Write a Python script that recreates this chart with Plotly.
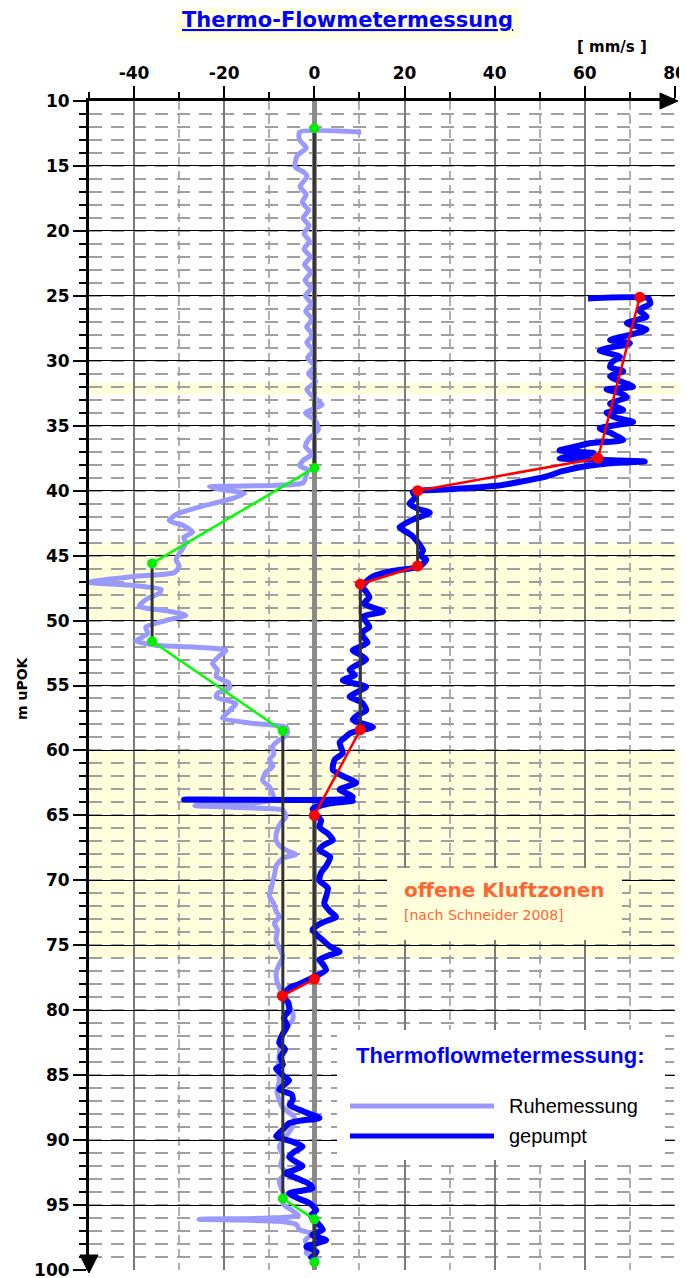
import plotly.graph_objects as go

# ---------------- data ----------------
ruhe_depth = [12.4, 12.4, 13.0, 13.6, 14.2, 15.06, 15.5, 15.8, 16.6, 17.2, 17.8, 18.4, 19.0, 19.6, 20.2,
              20.8, 21.4, 22.0, 22.6, 23.2, 23.8, 24.4, 25.0, 25.6, 26.2, 26.8, 27.4, 28.0, 28.6, 29.2,
              29.8, 30.4, 31.0, 31.6, 32.2, 32.8, 33.4, 34.0, 34.6, 35.3, 36.0, 36.6, 37.2, 37.7, 38.1,
              38.4, 38.8, 39.4, 39.6, 39.7, 39.9, 40.2, 40.6, 41.2, 41.8, 42.3, 42.7, 43.2, 43.6, 44.0,
              44.6, 45.3, 45.8, 46.3, 46.6, 47.05, 47.3, 47.6, 47.9, 48.3, 48.9, 49.3, 49.6, 50.0, 50.5,
              51.0, 51.6, 51.9, 52.1, 52.3, 52.7, 53.3, 53.8, 54.3, 54.8, 55.2, 55.6, 55.9, 56.4, 57.0,
              57.5, 57.9, 58.2, 58.6, 58.9, 59.3, 59.7, 60.3, 60.7, 61.2, 61.7, 62.3, 62.8, 63.3, 63.7,
              64.0, 64.25, 64.45, 64.6, 65.1, 65.6, 66.2, 66.9, 67.4, 67.8, 68.0, 68.3, 68.9, 69.5, 70.2,
              70.7, 71.2, 71.8, 72.3, 72.8, 73.3, 73.8, 74.6, 75.2, 75.9, 76.6, 77.2, 77.9, 78.5, 78.9,
              79.5, 80.2, 80.7, 81.5, 82.5, 83.5, 84.5, 85.5, 86.2, 86.9, 87.5, 88.2, 89.0, 89.8, 90.5,
              91.2, 92.0, 92.5, 93.1, 93.8, 94.5, 94.9, 95.4, 95.8, 96.0, 96.1, 96.25, 96.5, 96.9, 97.2,
              97.7, 98.2, 98.7, 99.1, 99.5]
ruhe_v = [10.4, -3.3, -3.3, -1.8, -3.8, -4.3, -2.3, -1.6, -3.2, -1.8, -2.7, -1.3, -2.5, -1.2, -2.3,
          -1.1, -2.3, -0.9, -2.2, -0.8, -2.1, -0.7, -2.0, -0.7, -1.9, -0.5, -1.7, -0.3, -1.7, -0.3,
          -1.5, 0.1, -1.3, 0.3, -1.7, -0.2, 1.7, -2.0, 0.2, 0.9, -1.2, -2.0, -0.6, -2.6, -3.2,
          -1.5, -1.8, -2.5, -10.0, -23.3, -21.0, -15.5, -18.1, -25.0, -30.5, -32.2, -29.0, -27.0, -29.0, -28.5,
          -29.5, -30.7, -30.0, -31.0, -40.0, -50.0, -40.0, -34.0, -34.4, -37.0, -38.9, -32.0, -28.5, -33.0, -37.4,
          -37.0, -39.6, -35.0, -24.0, -19.6, -21.0, -22.6, -21.5, -21.8, -19.0, -18.9, -21.5, -21.8, -17.4, -19.0,
          -20.4, -14.0, -6.3, -5.9, -6.5, -8.2, -9.3, -9.0, -10.0, -9.2, -10.8, -11.5, -10.0, -9.3, -9.0,
          -12.0, -26.5, -12.0, -7.0, -6.3, -7.5, -8.3, -8.5, -7.5, -5.5, -4.1, -7.0, -8.5, -8.8, -9.3,
          -9.6, -10.0, -9.0, -8.6, -7.8, -8.9, -8.2, -8.5, -7.8, -7.0, -8.0, -8.5, -8.2, -7.5, -7.8,
          -6.0, -4.8, -4.8, -6.5, -7.5, -7.8, -8.0, -7.8, -8.3, -7.8, -7.0, -4.5, -4.9, -6.5, -7.8,
          -7.0, -7.5, -6.2, -7.8, -7.2, -6.5, -7.0, -5.0, -3.5, -10.0, -25.6, -8.0, -4.0, -3.3, -0.4,
          -2.0, -1.5, -1.8, 0.5, -0.5]

pump_depth = [25.2, 25.2, 25.6, 26.1, 26.6, 27.1, 27.6, 28.0, 28.4, 28.65, 29.2, 29.7, 30.1, 30.5, 30.8,
              31.2, 31.6, 32.0, 32.2, 32.5, 32.8, 33.3, 33.8, 34.0, 34.4, 34.7, 35.2, 35.6, 36.1, 36.35,
              36.6, 36.9, 37.1, 37.3, 37.5, 37.65, 37.75, 37.9, 38.1, 38.5, 38.9, 39.3, 39.6, 39.9, 40.1,
              40.5, 41.0, 41.4, 41.7, 42.2, 42.8, 43.1, 43.5, 44.0, 44.6, 45.0, 45.3, 45.85, 46.2, 46.6,
              47.0, 47.4, 47.8, 48.2, 48.7, 49.3, 49.7, 50.1, 50.5, 50.9, 51.2, 51.7, 52.3, 52.6, 53.0,
              53.4, 53.8, 54.2, 54.6, 55.1, 55.5, 55.85, 56.3, 56.9, 57.3, 57.65, 58.2, 58.5, 58.7, 59.0,
              59.4, 60.2, 60.7, 61.2, 61.5, 62.0, 62.5, 63.0, 63.55, 63.7, 63.78, 63.88, 64.1, 64.5, 65.0,
              65.4, 65.9, 66.4, 66.9, 67.3, 67.65, 68.2, 68.9, 69.4, 70.0, 70.6, 71.25, 71.8, 72.4, 72.8,
              73.3, 73.8, 74.2, 74.6, 75.1, 75.5, 75.8, 76.1, 76.5, 76.9, 77.5, 78.0, 78.3, 78.9, 79.4,
              80.0, 80.6, 81.2, 81.8, 82.5, 83.0, 83.6, 84.2, 84.5, 85.0, 85.4, 86.1, 86.5, 86.9, 87.3,
              87.7, 88.0, 88.3, 88.5, 88.7, 89.2, 89.7, 90.1, 90.5, 90.9, 91.3, 91.7, 92.0, 92.3, 92.55,
              93.0, 93.3, 93.7, 94.1, 94.5, 94.85, 95.4, 95.8, 96.1, 96.5, 96.9, 97.3, 97.7, 98.2, 98.6,
              99.2]
pump_v = [60.7, 74.1, 74.5, 72.0, 73.7, 69.3, 73.7, 70.0, 65.6, 70.0, 63.3, 67.8, 66.0, 65.6, 68.5,
          65.6, 68.0, 70.7, 64.8, 68.0, 69.3, 65.6, 68.5, 64.8, 67.0, 70.7, 63.3, 66.0, 68.5, 61.1,
          58.0, 54.4, 61.9, 57.0, 54.4, 66.0, 73.3, 65.0, 60.4, 55.0, 51.5, 46.0, 41.0, 30.0, 21.8,
          22.5, 21.1, 23.0, 25.6, 22.0, 18.9, 20.0, 21.8, 23.0, 24.1, 23.5, 24.8, 23.3, 17.0, 13.0,
          11.5, 10.7, 11.5, 12.2, 11.0, 15.2, 10.7, 11.5, 12.2, 10.5, 10.7, 11.8, 8.5, 10.0, 11.5,
          9.5, 7.8, 9.0, 6.3, 11.5, 9.5, 7.8, 10.5, 11.5, 9.5, 8.5, 13.0, 9.5, 7.8, 6.8,
          5.6, 6.3, 4.5, 4.1, 4.1, 6.5, 9.3, 5.6, 8.5, 8.0, -28.9, 8.5, 3.0, -0.4, 0.5,
          1.5, 1.1, 3.0, 4.1, 2.0, 1.1, 3.5, 2.6, 1.5, 1.1, 3.0, 2.6, 2.2, 3.5, 4.8,
          1.5, -0.4, 0.5, 1.85, 3.5, 5.6, 3.0, 1.1, 2.0, 2.6, -0.4, -3.5, -5.6, -7.0, -5.8,
          -5.6, -6.8, -6.0, -7.0, -7.8, -6.5, -7.5, -7.0, -8.5, -7.0, -5.6, -7.8, -5.0, -4.8, -5.5,
          -3.0, -1.0, 1.1, -3.0, -5.6, -7.0, -8.5, -5.0, -2.6, -4.5, -5.6, -4.0, -2.6, -4.5, -6.3,
          -3.5, -1.5, -0.4, -5.6, -3.5, -1.1, 0.4, -0.8, 0.0, 1.0, 1.85, -0.5, 2.6, -1.8, 0.5,
          -1.1]

# simplified fits (points)
ruhe_fit_v = [0, 0, -36, -36, -7, -7, 0, 0]
ruhe_fit_depth = [12.1, 38.25, 45.6, 51.6, 58.5, 94.5, 96.1, 99.4]
pump_fit_v = [72.2, 62.9, 22.9, 22.9, 10.2, 10.2, 0, 0, -7.1]
pump_fit_depth = [25.1, 37.5, 40.0, 45.8, 47.2, 58.4, 65.0, 77.6, 78.9]

# open fracture zones (depth ranges)
zone_top = [31.7, 44.0, 60.0]
zone_bottom = [32.6, 50.0, 76.0]

x_ticks = [-40, -20, 0, 20, 40, 60, 80]
y_ticks = [10, 15, 20, 25, 30, 35, 40, 45, 50, 55, 60, 65, 70, 75, 80, 85, 90, 95, 100]

# ---------------- helpers ----------------
# page body has an 8px margin; figure sized to fit the window
W, H = 679, 1270
L, T = 81, 93
PW, PH = 586, 1169
R, B = W - L - PW, H - T - PH
SX0, SY0 = 89, 101  # plot-area origin in screen pixels


def fx(px):
    return (px - SX0) / PW


def fy(py):
    return (SY0 + PH - py) / PH


def split(xs, ds):
    vx, vy, sx, sy = [], [], [], []
    for i in range(len(xs) - 1):
        if xs[i] == xs[i + 1]:
            vx += [xs[i], xs[i + 1], None]
            vy += [ds[i], ds[i + 1], None]
        else:
            sx += [xs[i], xs[i + 1], None]
            sy += [ds[i], ds[i + 1], None]
    return vx, vy, sx, sy


YELLOW = "#FFFFDC"
BOLD = "DejaVu Sans"

fig = go.Figure()

fig.add_trace(go.Scatter(x=ruhe_v, y=ruhe_depth, mode="lines",
                         line=dict(color="#9999FF", width=5, shape="spline", smoothing=0.6),
                         showlegend=False, hoverinfo="skip"))
fig.add_trace(go.Scatter(x=pump_v, y=pump_depth, mode="lines",
                         line=dict(color="#0000FF", width=6, shape="spline", smoothing=0.6),
                         showlegend=False, hoverinfo="skip"))

rvx, rvy, rsx, rsy = split(ruhe_fit_v, ruhe_fit_depth)
pvx, pvy, psx, psy = split(pump_fit_v, pump_fit_depth)
fig.add_trace(go.Scatter(x=rvx + pvx, y=rvy + pvy, mode="lines",
                         line=dict(color="#333333", width=3), showlegend=False, hoverinfo="skip"))
fig.add_trace(go.Scatter(x=rsx, y=rsy, mode="lines",
                         line=dict(color="#00FF00", width=2.5), showlegend=False, hoverinfo="skip"))
fig.add_trace(go.Scatter(x=psx, y=psy, mode="lines",
                         line=dict(color="#FF0000", width=2.5), showlegend=False, hoverinfo="skip"))
fig.add_trace(go.Scatter(x=ruhe_fit_v, y=ruhe_fit_depth, mode="markers",
                         marker=dict(color="#00EE00", size=10), showlegend=False, hoverinfo="skip"))
fig.add_trace(go.Scatter(x=pump_fit_v, y=pump_fit_depth, mode="markers",
                         marker=dict(color="#FF0000", size=11), showlegend=False, hoverinfo="skip"))

shapes = []
for t0, t1 in zip(zone_top, zone_bottom):
    shapes.append(dict(type="rect", xref="paper", yref="y", x0=0, x1=1.03, y0=t0, y1=t1,
                       fillcolor=YELLOW, line=dict(width=0), layer="below"))

# arrows on axes
shapes.append(dict(type="path", xref="paper", yref="paper",
                   path=f"M {fx(660)} {fy(93)} L {fx(678)} {fy(101)} L {fx(660)} {fy(109)} Z",
                   fillcolor="black", line=dict(color="black", width=1), layer="above"))
shapes.append(dict(type="path", xref="paper", yref="paper",
                   path=f"M {fx(80)} {fy(1255)} L {fx(89)} {fy(1273)} L {fx(98)} {fy(1255)} Z",
                   fillcolor="black", line=dict(color="black", width=1), layer="above"))

# legend box
shapes.append(dict(type="rect", xref="paper", yref="paper", x0=fx(337), x1=fx(665), y0=fy(1160), y1=fy(1030),
                   fillcolor="white", line=dict(width=0), layer="above"))
shapes.append(dict(type="line", xref="paper", yref="paper", x0=fx(350), x1=fx(494), y0=fy(1106), y1=fy(1106),
                   line=dict(color="#9999FF", width=5), layer="above"))
shapes.append(dict(type="line", xref="paper", yref="paper", x0=fx(350), x1=fx(494), y0=fy(1136), y1=fy(1136),
                   line=dict(color="#0000FF", width=5), layer="above"))
# annotation box for fracture zones
shapes.append(dict(type="rect", xref="paper", yref="paper", x0=fx(387), x1=fx(622), y0=fy(940), y1=fy(868),
                   fillcolor=YELLOW, line=dict(width=0), layer="above"))

annotations = [
    dict(text="<u>Thermo-Flowmetermessung</u>", xref="paper", yref="paper", x=fx(347), y=fy(20),
         showarrow=False, font=dict(family=BOLD, size=21, color="#0000FF", weight="bold"),
         bgcolor="#FFFFE0", borderpad=6, xanchor="center", yanchor="middle"),
    dict(text="<b>[ mm/s ]</b>", xref="paper", yref="paper", x=fx(612), y=fy(47), showarrow=False,
         font=dict(family=BOLD, size=15, color="black"), xanchor="center", yanchor="middle"),
    dict(text="<b>m uPOK</b>", xref="paper", yref="paper", x=fx(22), y=fy(688), showarrow=False,
         textangle=-90, font=dict(family=BOLD, size=14, color="black"), xanchor="center", yanchor="middle"),
    dict(text="<b>offene Kluftzonen</b>", xref="paper", yref="paper", x=fx(402), y=fy(890), showarrow=False,
         font=dict(family=BOLD, size=20, color="#FF6633"), xanchor="left", yanchor="middle"),
    dict(text="[nach Schneider 2008]", xref="paper", yref="paper", x=fx(402), y=fy(915), showarrow=False,
         font=dict(family="DejaVu Sans", size=14, color="#FF6633"), xanchor="left", yanchor="middle"),
    dict(text="<b>Thermoflowmetermessung:</b>", xref="paper", yref="paper", x=fx(500), y=fy(1055),
         showarrow=False, font=dict(family="Liberation Sans, Arial", size=22, color="#0000FF"),
         xanchor="center", yanchor="middle"),
    dict(text="Ruhemessung", xref="paper", yref="paper", x=fx(507), y=fy(1106), showarrow=False,
         font=dict(family="Liberation Sans, Arial", size=20, color="black"), xanchor="left", yanchor="middle"),
    dict(text="gepumpt", xref="paper", yref="paper", x=fx(507), y=fy(1136), showarrow=False,
         font=dict(family="Liberation Sans, Arial", size=20, color="black"), xanchor="left", yanchor="middle"),
]

fig.update_layout(
    width=W, height=H,
    margin=dict(l=L, r=R, t=T, b=B, autoexpand=False),
    paper_bgcolor="white", plot_bgcolor="white",
    shapes=shapes, annotations=annotations,
    xaxis=dict(range=[-50, 80], side="top", tickvals=x_ticks, ticktext=[str(v) for v in x_ticks],
               automargin=False, ticklabeloverflow="allow",
               ticks="outside", ticklen=12, tickwidth=2, tickcolor="black",
               tickfont=dict(family=BOLD, size=17, color="black", weight="bold"),
               showgrid=True, gridcolor="#7a7a7a", gridwidth=1.5,
               zeroline=True, zerolinecolor="#8a8a8a", zerolinewidth=5,
               showline=True, linecolor="black", linewidth=3,
               minor=dict(dtick=10, tick0=0, ticks="outside", ticklen=6, tickwidth=2, tickcolor="black",
                          showgrid=True, gridcolor="#b0b0b0", gridwidth=1.5, griddash="9px,5px"),
               fixedrange=True),
    yaxis=dict(range=[100, 10], tickvals=y_ticks, ticktext=[str(v) for v in y_ticks],
               automargin=False, ticklabeloverflow="allow",
               ticks="outside", ticklen=13, tickwidth=2, tickcolor="black",
               tickfont=dict(family=BOLD, size=17, color="black", weight="bold"),
               showgrid=True, gridcolor="black", gridwidth=1,
               zeroline=False, showline=True, linecolor="black", linewidth=3,
               minor=dict(dtick=1, tick0=0, ticks="outside", ticklen=7, tickwidth=2, tickcolor="black",
                          showgrid=True, gridcolor="#a0a0a0", gridwidth=1.5, griddash="13px,9px"),
               fixedrange=True),
)

fig.write_html("out.html")
